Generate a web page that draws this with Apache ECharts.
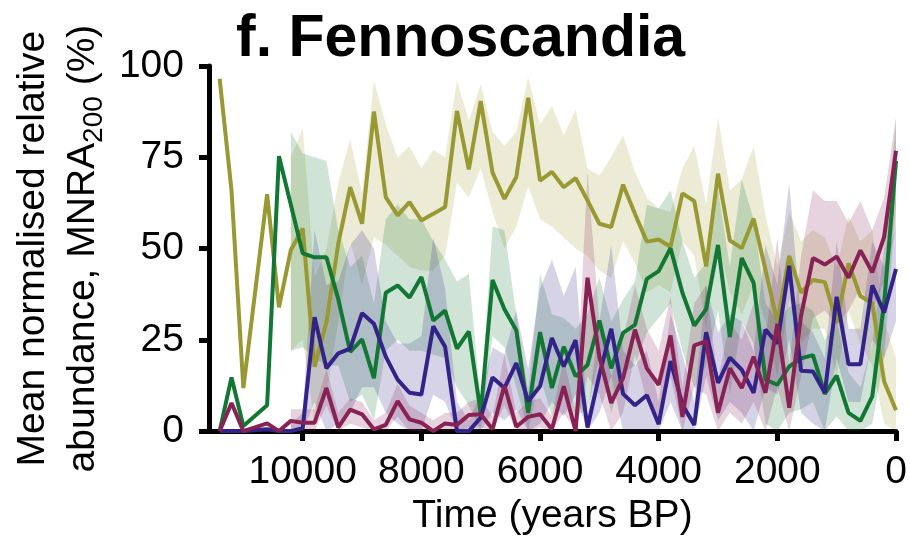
<!DOCTYPE html>
<html>
<head>
<meta charset="utf-8">
<script src="https://cdn.jsdelivr.net/npm/echarts@6/dist/echarts.min.js"></script>
<style>
  html, body { margin: 0; padding: 0; background: #fff; }
  #chart { width: 910px; height: 541px; }
</style>
</head>
<body>
<div id="chart"></div>
<script>
// time bins (years BP), oldest first
var years = [11400, 11200, 11000, 10800, 10600, 10400, 10200, 10000, 9800, 9600,
  9400, 9200, 9000, 8800, 8600, 8400, 8200, 8000, 7800, 7600,
  7400, 7200, 7000, 6800, 6600, 6400, 6200, 6000, 5800, 5600,
  5400, 5200, 5000, 4800, 4600, 4400, 4200, 4000, 3800, 3600,
  3400, 3200, 3000, 2800, 2600, 2400, 2200, 2000, 1800, 1600,
  1400, 1200, 1000, 800, 600, 400, 200, 0];

// mean values (%)
var olive = [96.5, 65.9, 11.8, null, 64.9, 33.9, 49.6, 55.5, 17.6, 29.8, 51.4, 66.8, 56.8, 87.5, 64.1, 59.1, 62.7,
  57.7, 59.5, 61.4, 87.7, 71.7, 90.4, 70.8, 63.6, 69.6, 91.3, 68.6, 71.0, 66.8, 69.3, 63.2, 56.8, 55.9, 67.5, 59.5, 51.9,
  52.5, 50.5, 65.1, 63.0, 45.1, 70.5, 52.2, 50.1, 58.2, 44.2, 29.8, 48.0, 37.9, 41.4, 40.8, 29.8, 45.9, 37.0, 35.0, 13.6, 5.7];
var green = [0, 14.7, 1.4, null, 7.1, 75.3, 62.0, 48.7, 47.6, 47.6, 36.1, 21.7, 25.1, 14.5, 37.9, 39.9, 36.6,
  42.2, 30.3, 33.0, 22.6, 27.3, 5.0, 41.4, 33.4, 27.6, 5.0, 27.1, 11.8, 23.1, 15.0, 18.1, 30.3, 17.2, 26.9, 29.1, 41.7,
  43.8, 50.1, 37.9, 28.9, 33.4, 51.0, 25.8, 47.4, 40.6, 14.1, 12.7, 17.7, 19.9, 20.8, 10.2, 15.2, 5.0, 2.8, 9.5, 35.0, 74.0];
var purple = [0, 0, 0, null, 0.5, 0, 0, 0.8, 31.2, 17.2, 21.3, 22.6, 32.3, 29.4, 20.4, 14.1, 10.5,
  10.0, 28.7, 23.1, 0, 0, 3.7, 14.7, 11.8, 18.6, 8.2, 12.3, 25.5, 17.7, 24.9, 1.0, 15.4, 28.0, 10.2, 7.1, 9.8,
  1.9, 19.2, 7.3, 1.7, 27.1, 13.2, 20.1, 16.8, 10.5, 27.8, 24.0, 45.3, 16.5, 16.3, 10.5, 36.8, 18.3, 18.3, 39.9, 32.5, 44.4];
var magenta = [0, 7.7, 0, null, 2.1, 0, 2.8, 2.3, 2.3, 11.8, 1.0, 5.9, 4.6, 0.5, 1.7, 8.2, 3.2,
  2.3, 0, 2.1, 1.7, 4.4, 4.6, 0.5, 12.5, 1.2, 3.9, 4.6, 0.5, 12.3, 0, 42.0, 20.4, 7.7, 14.5, 27.8, 17.2,
  12.7, 26.2, 3.9, 23.5, 24.6, 5.0, 17.2, 11.8, 20.4, 10.5, 29.4, 6.4, 31.6, 47.4, 45.6, 47.8, 42.0, 49.5, 43.5, 53.2, 76.8];

// uncertainty bands (lower / upper), none before 10200 BP
var oliveLo = [null, null, null, null, null, null, 22, 25, 2, 10, 30, 52, 40, 53, 51, 48, 45,
  44, 44, 48, 68, 64, 72, 60, 50, 56, 67, 58, 56, 53, 50, 48, 44, 42, 52, 46, 38,
  40, 38, 52, 48, 28, 52, 38, 32, 40, 30, 15, 36, 24, 28, 28, 15, 33, 24, 18, 2, 0];
var oliveHi = [null, null, null, null, null, null, 75, 83, 42, 50, 68, 80, 65, 96, 84, 75, 78,
  72, 77, 75, 96, 85, 95, 82, 78, 82, 97, 84, 89, 81, 88, 72, 70, 75, 81, 71, 64,
  61, 60, 72, 78, 62, 86, 66, 69, 78, 59, 45, 60, 52, 55, 53, 45, 59, 52, 55, 30, 20];
var greenLo = [null, null, null, null, null, null, 22, 23, 20, 18, 18, 8, 10, 3, 22, 25, 22,
  22, 21, 20, 12, 7, 0, 26, 23, 12, 0, 15, 4, 12, 4, 6, 20, 5, 16, 18, 27,
  31, 35, 22, 12, 18, 33, 10, 30, 24, 2, 0, 5, 6, 8, 0, 4, 0, 0, 2, 20, 62];
var greenHi = [null, null, null, null, null, null, 82, 76, 75, 74, 55, 45, 48, 35, 58, 62, 58,
  58, 52, 47, 41, 43, 8, 56, 55, 32, 11, 43, 32, 31, 28, 32, 42, 30, 36, 41, 62,
  61, 66, 52, 42, 46, 66, 45, 69, 58, 35, 30, 34, 35, 33, 25, 30, 16, 12, 24, 50, 85];
var purpleLo = [null, null, null, null, null, null, 0, 0, 8, 0, 2, 5, 12, 12, 5, 2, 0,
  0, 10, 8, 0, 0, 0, 5, 3, 6, 0, 2, 8, 4, 10, 0, 5, 15, 0, 0, 0,
  0, 8, 0, 0, 15, 3, 8, 5, 0, 12, 10, 25, 5, 2, 0, 20, 8, 8, 25, 20, 30];
var purpleHi = [null, null, null, null, null, null, 2, 5, 55, 40, 41, 51, 55, 50, 30, 24, 24,
  26, 53, 39, 8, 3, 10, 23, 21, 33, 17, 39, 47, 37, 45, 4, 30, 51, 22, 18, 22,
  8, 32, 21, 8, 40, 27, 32, 30, 22, 51, 40, 68, 30, 27, 20, 52, 28, 28, 52, 45, 56];
var magentaLo = [null, null, null, null, null, null, 0, 0, 0, 7, 0, 2, 1, 0, 0, 4, 0,
  0, 0, 0, 0, 1, 1, 0, 7, 0, 0, 1, 0, 5, 0, 15, 10, 0, 5, 21, 8,
  4, 15, 0, 12, 10, 0, 5, 2, 8, 0, 12, 0, 15, 31, 33, 29, 33, 39, 33, 41, 56];
var magentaHi = [null, null, null, null, null, null, 6, 6, 6, 17, 5, 9, 8, 3, 5, 13, 7,
  5, 3, 5, 5, 8, 9, 4, 21, 5, 8, 9, 4, 20, 5, 71, 30, 15, 25, 40, 28,
  22, 37, 12, 35, 40, 14, 30, 25, 35, 25, 53, 18, 48, 66, 63, 63, 57, 63, 55, 64, 86];

var xTicks = [0, 2000, 4000, 6000, 8000, 10000];

var font = 'Liberation Sans';

function pairs(arr) {
  return years.map(function (t, i) { return [t, arr[i]]; });
}

// shaded band drawn as one polygon through the axis scales
function band(lo, hi, fill) {
  return {
    type: 'custom',
    coordinateSystem: 'cartesian2d',
    silent: true,
    z: 1,
    data: [[0, 0]],
    renderItem: function (params, api) {
      var top = [], bot = [];
      for (var i = 0; i < years.length; i++) {
        if (lo[i] == null) continue;
        top.push(api.coord([years[i], hi[i]]));
        bot.unshift(api.coord([years[i], lo[i]]));
      }
      return {
        type: 'polygon',
        shape: { points: top.concat(bot) },
        style: { fill: fill }
      };
    }
  };
}

function line(arr, color) {
  return {
    type: 'line',
    data: pairs(arr),
    showSymbol: false,
    connectNulls: true,
    z: 3,
    lineStyle: { color: color, width: 4 },
    itemStyle: { color: color }
  };
}

var myChart = echarts.init(document.getElementById('chart'));

var option = {
  animation: false,
  backgroundColor: '#fff',
  title: {
    text: 'f. Fennoscandia',
    left: 236,
    top: 10,
    padding: 0,
    textStyle: { fontFamily: font, fontSize: 59, fontWeight: 'bold', color: '#000' }
  },
  grid: { left: 208, right: 14, top: 66, bottom: 103 },
  xAxis: {
    type: 'value',
    inverse: true,
    min: 0,
    max: 11580,
    name: 'Time (years BP)',
    nameLocation: 'middle',
    nameGap: 62,
    nameTextStyle: { fontFamily: font, fontSize: 39, color: '#000' },
    axisLine: { onZero: false, lineStyle: { color: '#000', width: 5 } },
    axisTick: { length: 10, lineStyle: { color: '#000', width: 5 }, customValues: xTicks },
    axisLabel: {
      fontFamily: font, fontSize: 39, color: '#000', margin: 22,
      customValues: xTicks,
      formatter: function (v) { return String(v); }
    },
    splitLine: { show: false }
  },
  yAxis: {
    type: 'value',
    min: 0,
    max: 100,
    interval: 25,
    name: '{a|Mean normalised relative}\n{a|abundance, MNRA}{s|200}{a| (%)}',
    nameLocation: 'middle',
    nameGap: 100,
    nameTextStyle: {
      fontFamily: font, fontSize: 39, color: '#000', lineHeight: 50,
      rich: {
        a: { fontFamily: font, fontSize: 39, color: '#000', lineHeight: 50 },
        s: { fontFamily: font, fontSize: 28, color: '#000', lineHeight: 24, verticalAlign: 'bottom' }
      }
    },
    axisLine: { show: true, onZero: false, lineStyle: { color: '#000', width: 5 } },
    axisTick: { show: true, length: 10, lineStyle: { color: '#000', width: 5 } },
    axisLabel: { fontFamily: font, fontSize: 39, color: '#000', margin: 25 },
    splitLine: { show: false }
  },
  series: [
    band(oliveLo, oliveHi, 'rgba(153,153,51,0.2)'),
    band(greenLo, greenHi, 'rgba(17,119,51,0.2)'),
    band(purpleLo, purpleHi, 'rgba(51,34,136,0.2)'),
    band(magentaLo, magentaHi, 'rgba(136,34,85,0.2)'),
    line(olive, '#999933'),
    line(green, '#117733'),
    line(purple, '#332288'),
    line(magenta, '#882255')
  ]
};

myChart.setOption(option);
</script>
</body>
</html>
